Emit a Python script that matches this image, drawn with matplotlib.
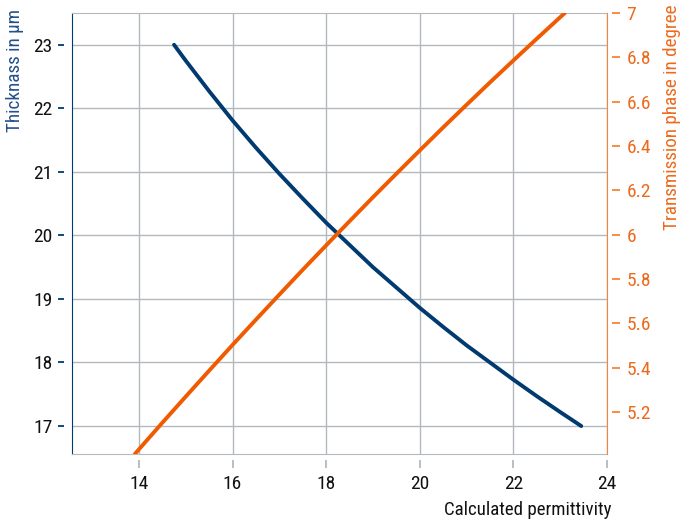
import matplotlib
matplotlib.use("Agg")
import matplotlib.pyplot as plt
from matplotlib import font_manager
from matplotlib.transforms import blended_transform_factory, ScaledTranslation

# pick a narrow sans if one is around
_avail = {(f.name, f.stretch) for f in font_manager.fontManager.ttflist}
_names = {n for n, _ in _avail}
if 'Roboto Condensed' in _names:
    plt.rcParams['font.family'] = ['Roboto Condensed', 'DejaVu Sans']
elif ('Roboto', 'condensed') in _avail:
    plt.rcParams['font.family'] = ['Roboto', 'DejaVu Sans']
    plt.rcParams['font.stretch'] = 'condensed'
elif ('DejaVu Sans', 'condensed') in _avail:
    plt.rcParams['font.family'] = ['DejaVu Sans']
    plt.rcParams['font.stretch'] = 'condensed'
else:
    plt.rcParams['font.family'] = ['Roboto', 'DejaVu Sans']

# thickness curve (left axis)
eps_thick = [14.75, 15.0, 15.5, 16.0, 16.5, 17.0, 17.5, 18.0, 18.5, 19.0, 19.5, 20.0,
             20.5, 21.0, 21.5, 22.0, 22.5, 23.0, 23.45]
thickness = [23.00, 22.75, 22.27, 21.81, 21.38, 20.97, 20.58, 20.20, 19.85, 19.50, 19.18, 18.86,
             18.56, 18.27, 18.00, 17.73, 17.47, 17.22, 17.00]

# transmission phase curve (right axis)
eps_phase = [13.91, 14.0, 14.5, 15.0, 15.5, 16.0, 16.5, 17.0, 17.5, 18.0, 18.5, 19.0,
             19.5, 20.0, 20.5, 21.0, 21.5, 22.0, 22.5, 23.0, 23.1]
phase = [5.010, 5.032, 5.152, 5.270, 5.387, 5.503, 5.617, 5.730, 5.842, 5.952, 6.061, 6.169,
         6.275, 6.380, 6.484, 6.586, 6.687, 6.786, 6.884, 6.981, 7.000]

xticks = [14, 16, 18, 20, 22, 24]
yticks_left = [17, 18, 19, 20, 21, 22, 23]
yticks_right = [5.2, 5.4, 5.6, 5.8, 6, 6.2, 6.4, 6.6, 6.8, 7]
ylabels_right = ['5.2', '5.4', '5.6', '5.8', '6', '6.2', '6.4', '6.6', '6.8', '7']

BLUE = '#003a70'
BLUE_TXT = '#23508a'
ORANGE = '#f05a00'
ORANGE_TXT = '#ec6a1c'
ORANGE_AX = '#f3843a'
GRID = '#b4b9be'

fig = plt.figure(figsize=(6.81, 5.20), dpi=100)
ax = fig.add_axes([72 / 681, 66 / 520, 535 / 681, 441 / 520])
ax2 = ax.twinx()

ax.plot(eps_thick, thickness, color=BLUE, lw=2.8, solid_capstyle='round', zorder=3)
ax2.plot(eps_phase, phase, color=ORANGE, lw=2.8, solid_capstyle='round', zorder=3)

ax.set_xlim(12.57, 24)
ax.set_ylim(16.56, 23.5)
ax2.set_ylim(5.011, 7.0)

ax.set_xticks(xticks)
ax.set_yticks(yticks_left)
ax2.set_yticks(yticks_right)
ax2.set_yticklabels(ylabels_right)

ax.grid(True, color=GRID, lw=1)
ax.set_axisbelow(True)

ax.tick_params(axis='y', length=0, pad=14, labelsize=14, labelcolor='#111111')
ax.tick_params(axis='x', length=0, pad=15, labelsize=14, labelcolor='#111111')
ax2.tick_params(axis='y', length=0, pad=14, labelsize=14, labelcolor=ORANGE_TXT)

for s in ['top', 'bottom']:
    ax.spines[s].set_color(GRID)
    ax2.spines[s].set_visible(False)
ax.spines['left'].set_color(BLUE)
ax.spines['right'].set_visible(False)
ax2.spines['left'].set_visible(False)
ax2.spines['right'].set_color(ORANGE_AX)

# detached tick dashes
tl = blended_transform_factory(ax.transAxes, ax.transData) + ScaledTranslation(-0.115, 0, fig.dpi_scale_trans)
ax.plot([0] * len(yticks_left), yticks_left, ls='none', marker='_', ms=4, mew=1.3,
        color=BLUE, transform=tl, clip_on=False)
tb = blended_transform_factory(ax.transData, ax.transAxes) + ScaledTranslation(0, -0.10, fig.dpi_scale_trans)
ax.plot(xticks, [0] * len(xticks), ls='none', marker='|', ms=6, mew=1.3,
        color=GRID, transform=tb, clip_on=False)
tr = blended_transform_factory(ax2.transAxes, ax2.transData) + ScaledTranslation(0.09, 0, fig.dpi_scale_trans)
ax2.plot([1] * len(yticks_right), yticks_right, ls='none', marker='_', ms=6, mew=1.3,
         color=ORANGE_AX, transform=tr, clip_on=False)

fig.text(15 / 681, 1 - 9 / 520, 'Thicknass in µm', rotation=90, ha='center', va='top',
         fontsize=13.8, color=BLUE_TXT)
fig.text(672 / 681, 1 - 5 / 520, 'Transmission phase in degree', rotation=90, ha='center', va='top',
         fontsize=13.8, color=ORANGE_TXT)
fig.text(612 / 681, 1 - 510 / 520, 'Calculated permittivity', ha='right', va='center',
         fontsize=13.6, color='#111111')

fig.savefig('out.png', dpi=100)
